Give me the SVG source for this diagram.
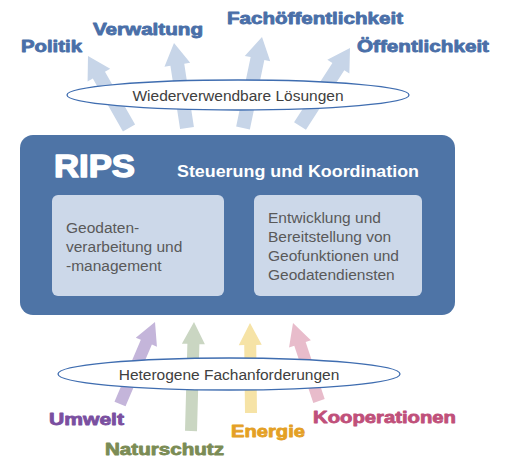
<svg xmlns="http://www.w3.org/2000/svg" width="505" height="464" viewBox="0 0 505 464">
<style>
.lbl{font-family:"Liberation Sans",Arial,sans-serif;font-weight:bold;font-size:16px;stroke-width:0.8;stroke-linejoin:round}
.blue{fill:#4a6fa8;stroke:#4a6fa8}
.body{font-family:"Liberation Sans",Arial,sans-serif;font-size:15.5px;fill:#595959}
.ell{fill:#ffffff;stroke:#3f6db0;stroke-width:1.3}
.etext{font-family:"Liberation Sans",Arial,sans-serif;font-size:15.5px;fill:#404040;text-anchor:middle}
.up{fill:#c7d5e8}
</style>
<rect width="505" height="464" fill="#ffffff"/>
<g id="connectors">
<polygon class="up" points="135.08,124.54 104.97,71.66 110.19,68.69 88,56 87.59,81.55 92.81,78.58 122.92,131.46"/>
<polygon class="up" points="193.92,126.94 184.25,63.69 190.18,62.78 174,43 164.48,66.72 170.41,65.81 180.08,129.06"/>
<polygon class="up" points="249.85,129.43 264.35,59.97 270.23,61.2 262,37 244.77,55.88 250.65,57.11 236.15,126.57"/>
<polygon class="up" points="305.94,129.71 344.28,70.37 349.36,73.55 350,48 327.32,59.77 332.4,62.95 294.06,122.29"/>
<polygon fill="#c4b5da" points="125.52,406.36 151.88,344.59 156.94,346.74 155,322 135.78,337.72 140.84,339.87 114.48,401.64"/>
<polygon fill="#cad6c2" points="197,431.17 199.39,344.16 204.89,344.31 194,322 181.89,343.67 187.39,343.82 185,430.83"/>
<polygon fill="#f6e3a6" points="257,412.93 256.24,344.93 261.74,344.87 250,323 238.74,345.13 244.24,345.07 245,413.07"/>
<polygon fill="#e8bccb" points="324.69,399.1 305.65,341.97 310.87,340.23 293,323 289.05,347.51 294.27,345.77 313.31,402.9"/>
</g>
<g id="top-ellipse">
<ellipse class="ell" cx="238" cy="95" rx="171" ry="15"/>
<text class="etext" x="238" y="100.5">Wiederverwendbare Lösungen</text>
</g>
<g id="bottom-ellipse">
<ellipse class="ell" cx="229" cy="374" rx="171" ry="16"/>
<text class="etext" x="229" y="380">Heterogene Fachanforderungen</text>
</g>
<g id="rips">
<rect x="20" y="135" width="435" height="180" rx="13" fill="#4e74a6"/>
<text x="54" y="177" font-family="'Liberation Sans',Arial,sans-serif" font-weight="bold" font-size="30.5" fill="#ffffff" stroke="#ffffff" stroke-width="1.4" stroke-linejoin="round" textLength="81" lengthAdjust="spacingAndGlyphs">RIPS</text>
<text x="177" y="177" font-family="'Liberation Sans',Arial,sans-serif" font-weight="bold" font-size="17" fill="#ffffff" textLength="242" lengthAdjust="spacingAndGlyphs">Steuerung und Koordination</text>
</g>
<g id="box-left">
<rect x="52" y="195" width="172" height="101" rx="6" fill="#ccd8e9"/>
<text class="body" x="66" y="233">Geodaten-</text>
<text class="body" x="66" y="252">verarbeitung und</text>
<text class="body" x="66" y="271">-management</text>
</g>
<g id="box-right">
<rect x="254" y="195" width="168" height="101" rx="6" fill="#ccd8e9"/>
<text class="body" x="268" y="223">Entwicklung und</text>
<text class="body" x="268" y="242">Bereitstellung von</text>
<text class="body" x="268" y="261">Geofunktionen und</text>
<text class="body" x="268" y="280">Geodatendiensten</text>
</g>
<g id="label-politik"><text class="lbl blue" x="21" y="52" textLength="61" lengthAdjust="spacingAndGlyphs">Politik</text></g>
<g id="label-verwaltung"><text class="lbl blue" x="93" y="35" textLength="110" lengthAdjust="spacingAndGlyphs">Verwaltung</text></g>
<g id="label-fachoeffentlichkeit"><text class="lbl blue" x="227" y="24" textLength="176" lengthAdjust="spacingAndGlyphs">Fachöffentlichkeit</text></g>
<g id="label-oeffentlichkeit"><text class="lbl blue" x="357" y="52" textLength="132" lengthAdjust="spacingAndGlyphs">Öffentlichkeit</text></g>
<g id="label-umwelt"><text class="lbl" fill="#7a4fa0" stroke="#7a4fa0" x="49" y="425" textLength="75" lengthAdjust="spacingAndGlyphs">Umwelt</text></g>
<g id="label-naturschutz"><text class="lbl" fill="#7b8c55" stroke="#7b8c55" x="105" y="455" textLength="119" lengthAdjust="spacingAndGlyphs">Naturschutz</text></g>
<g id="label-energie"><text class="lbl" fill="#e4a024" stroke="#e4a024" x="231" y="437" textLength="74" lengthAdjust="spacingAndGlyphs">Energie</text></g>
<g id="label-kooperationen"><text class="lbl" fill="#c0507a" stroke="#c0507a" x="313" y="423" textLength="143" lengthAdjust="spacingAndGlyphs">Kooperationen</text></g>
</svg>
